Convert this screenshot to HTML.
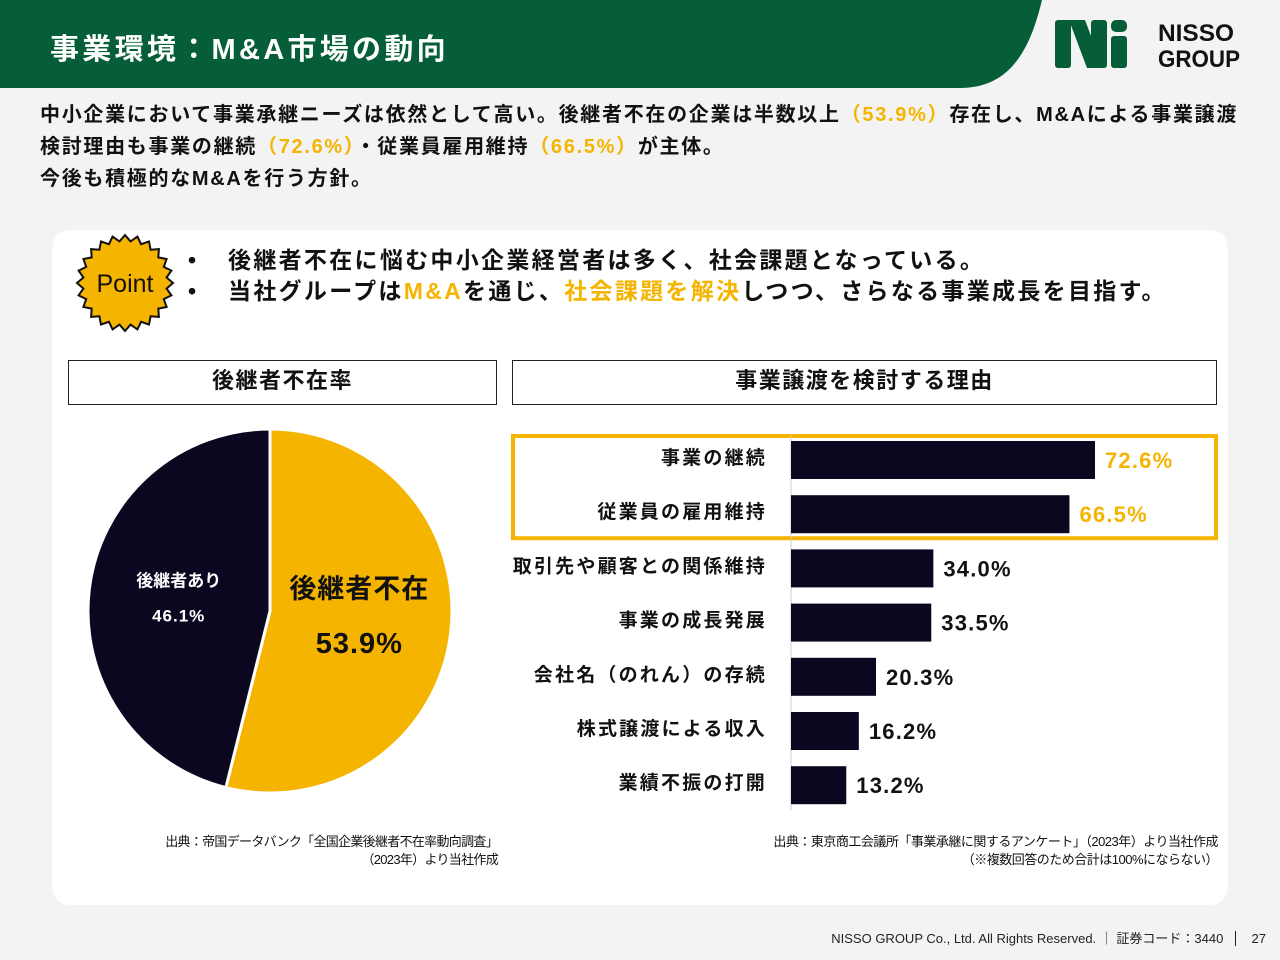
<!DOCTYPE html>
<html><head><meta charset="utf-8"><style>
body{margin:0;width:1280px;height:960px;background:#f3f3f3;font-family:"Liberation Sans","Noto Sans CJK JP",sans-serif;position:relative;overflow:hidden;color:#111}
.abs{position:absolute}
b{font-weight:700}
.y{color:#f5b400}
</style></head><body>
<svg class="abs" style="left:0;top:0" width="1280" height="960">
<path d="M0 0 H1042 C1030 50 1010 88 960 88 H0 Z" fill="#055e38"/>
</svg>
<div class="abs" style="left:50px;top:26px;font-size:29px;font-weight:700;color:#fff;letter-spacing:3.3px">事業環境：M&amp;A市場の動向</div>
<svg class="abs" style="left:1055px;top:18px" width="190" height="54">
<rect x="0" y="2" width="16" height="48" rx="3" fill="#055e38"/>
<polygon points="14,2 30,2 48,50 32,50" fill="#055e38"/>
<rect x="36" y="2" width="16" height="48" rx="3" fill="#055e38"/>
<rect x="56" y="2" width="16" height="12" rx="5" fill="#055e38"/>
<rect x="56" y="18" width="16" height="32" rx="3" fill="#055e38"/>
<text x="103" y="23" font-size="24" font-weight="700" fill="#111" font-family="Liberation Sans" textLength="76" lengthAdjust="spacingAndGlyphs">NISSO</text>
<text x="103" y="49" font-size="24" font-weight="700" fill="#111" font-family="Liberation Sans" textLength="82" lengthAdjust="spacingAndGlyphs">GROUP</text>
</svg>
<div class="abs" style="left:40px;top:99px;font-size:20px;font-weight:700;line-height:32px;width:1240px;letter-spacing:1.7px;white-space:nowrap">中小企業において事業承継ニーズは依然として高い。後継者不在の企業は半数以上<span class="y">（53.9%）</span>存在し、M&amp;Aによる事業譲渡<br>検討理由も事業の継続<span class="y">（72.6%）</span>・従業員雇用維持<span class="y">（66.5%）</span>が主体。<br>今後も積極的なM&amp;Aを行う方針。</div>
<div class="abs" style="left:52px;top:230px;width:1176px;height:675px;background:#fff;border-radius:18px"></div>
<svg class="abs" style="left:75px;top:233px" width="100" height="100">
<polygon id="star" fill="#f5b400" stroke="#111" stroke-width="2"/>
<text x="50" y="59" text-anchor="middle" font-size="25" fill="#111" font-family="Liberation Sans">Point</text>
</svg>
<script>
(function(){var p=[];for(var i=0;i<48;i++){var r=i%2?42:48,a=i*Math.PI/24;p.push((50+r*Math.sin(a)).toFixed(1)+','+(50-r*Math.cos(a)).toFixed(1));}document.getElementById('star').setAttribute('points',p.join(' '));})();
</script>
<div class="abs" style="left:188px;top:245px;font-size:23px;font-weight:700;line-height:31px;white-space:nowrap">
<div>•&nbsp;&nbsp;&nbsp;&nbsp;&nbsp;<span style="letter-spacing:2.3px">後継者不在に悩む中小企業経営者は多く、社会課題となっている。</span></div>
<div>•&nbsp;&nbsp;&nbsp;&nbsp;&nbsp;<span style="letter-spacing:2.3px">当社グループは<span class="y">M&amp;A</span>を通じ、<span class="y">社会課題を解決</span>しつつ、さらなる事業成長を目指す。</span></div></div>
<div class="abs" style="left:68px;top:360px;width:427px;height:43px;border:1.5px solid #222;text-align:center;line-height:40px;font-size:22px;font-weight:700;letter-spacing:1.5px">後継者不在率</div>
<div class="abs" style="left:512px;top:360px;width:703px;height:43px;border:1.5px solid #222;text-align:center;line-height:40px;font-size:22px;font-weight:700;letter-spacing:1.5px">事業譲渡を検討する理由</div>
<svg id="chart" class="abs" style="left:0;top:0" width="1280" height="960"></svg>
<div class="abs" style="left:100px;top:833px;width:398px;text-align:right;font-size:13px;line-height:18px;letter-spacing:-0.7px">出典：帝国データバンク「全国企業後継者不在率動向調査」<br>（2023年）より当社作成</div>
<div class="abs" style="left:640px;top:833px;width:578px;text-align:right;font-size:13px;line-height:18px;letter-spacing:-0.5px">出典：東京商工会議所「事業承継に関するアンケート」（2023年）より当社作成<br>（※複数回答のため合計は100%にならない）</div>
<div class="abs" style="right:14px;top:928px;font-size:13px;color:#222">NISSO GROUP Co., Ltd. All Rights Reserved. ｜ 証券コード：3440 &nbsp;<span style="border-left:1.5px solid #222;padding-left:16px;margin-left:4px">27</span></div>
<script>
var pieLabels=["後継者不在","後継者あり"];
var pieValues=[53.9,46.1];
var barCategories=["事業の継続","従業員の雇用維持","取引先や顧客との関係維持","事業の成長発展","会社名（のれん）の存続","株式譲渡による収入","業績不振の打開"];
var barValues=[72.6,66.5,34.0,33.5,20.3,16.2,13.2];
var highlighted=[0,1];
var svg=document.getElementById('chart'),NS='http://www.w3.org/2000/svg';
function mk(t,a,txt){var e=document.createElementNS(NS,t);for(var k in a)e.setAttribute(k,a[k]);if(txt!=null)e.textContent=txt;svg.appendChild(e);return e;}
var cx=270,cy=611,R=182,tot=pieValues.reduce(function(a,b){return a+b},0),ang=0,cols=["#f5b400","#0b0720"];
function pt(a,r){return [cx+r*Math.sin(a),cy-r*Math.cos(a)];}
pieValues.forEach(function(v,i){var a0=ang,a1=ang+v/tot*2*Math.PI;ang=a1;var p0=pt(a0,R),p1=pt(a1,R);
var s=mk('path',{d:'M'+cx+' '+cy+'L'+p0[0]+' '+p0[1]+'A'+R+' '+R+' 0 '+((a1-a0)>Math.PI?1:0)+' 1 '+p1[0]+' '+p1[1]+'Z',fill:cols[i],stroke:'#fff','stroke-width':3});


var m=(a0+a1)/2,lp=pt(m,i==0?90:94);
if(i==0){var t1=mk('text',{x:lp[0],y:lp[1]-24,'text-anchor':'middle','font-size':27,'font-weight':700,fill:'#111','letter-spacing':1},pieLabels[i]);

var t2=mk('text',{x:lp[0],y:lp[1]+31,'text-anchor':'middle','font-size':29,'font-weight':700,fill:'#111','letter-spacing':1},v.toFixed(1)+'%');
}
else{var t3=mk('text',{x:lp[0]+2,y:lp[1]-13,'text-anchor':'middle','font-size':17,'font-weight':700,fill:'#fff'},pieLabels[i]);

var t4=mk('text',{x:lp[0]+2,y:lp[1]+22,'text-anchor':'middle','font-size':17,'font-weight':700,fill:'#fff','letter-spacing':1},v.toFixed(1)+'%');
}
});
var x0=791,sx=304/72.6,y0=460,step=54.2,bh=38;
function X(v){return x0+v*sx;}function Y(i){return y0+i*step;}
var hl=mk('rect',{x:513,y:Y(0)-24,width:703,height:step*(highlighted.length-1)+48,fill:'none',stroke:'#f5b400','stroke-width':4});

var ax=mk('line',{x1:x0,x2:x0,y1:Y(0)-25,y2:Y(barCategories.length-1)+25,stroke:'#ccc','stroke-width':1});

barCategories.forEach(function(c,i){
var r=mk('rect',{x:x0,y:Y(i)-bh/2,width:X(barValues[i])-x0,height:bh,fill:'#0b0720'});

var l=mk('text',{x:767,y:Y(i)+4,'text-anchor':'end','font-size':19,'font-weight':700,fill:'#111','letter-spacing':2.2},c);

var hi=highlighted.indexOf(i)>=0;
var v=mk('text',{x:X(barValues[i])+10,y:Y(i)+8,'font-size':22,'font-weight':700,fill:hi?'#f5b400':'#111','letter-spacing':1.2},barValues[i].toFixed(1)+'%');

});
</script>
</body></html>
